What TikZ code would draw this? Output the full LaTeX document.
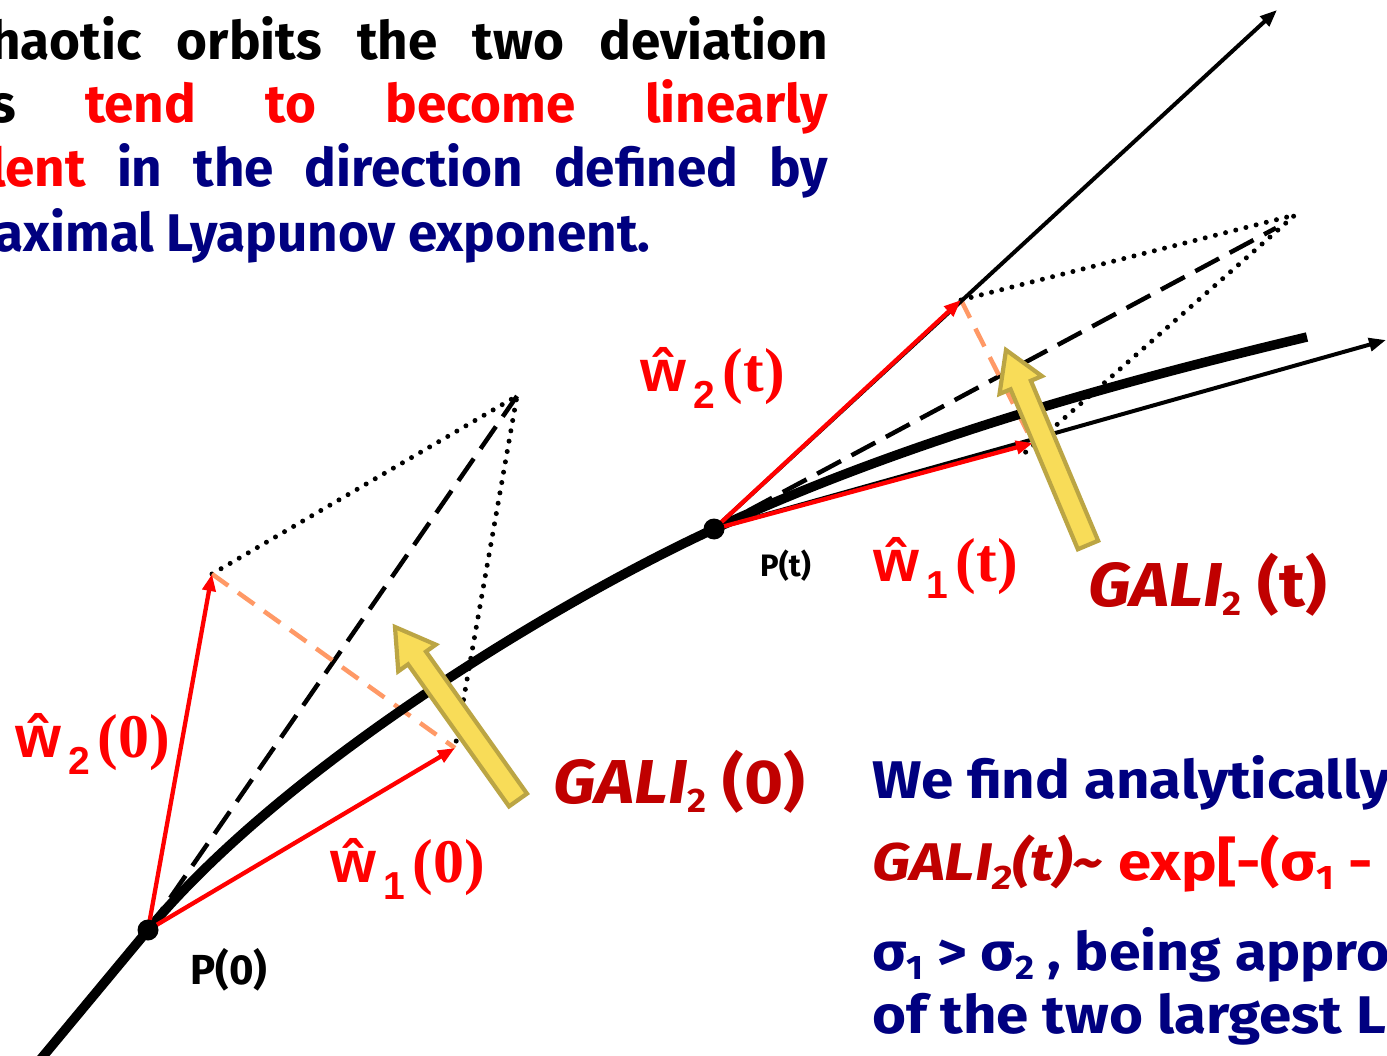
\documentclass[tikz,border=0pt]{standalone}
\usepackage{fontspec}
\setmainfont{Fira Sans}
\newfontfamily\wsans{Liberation Sans}
\newfontfamily\wserif{Liberation Serif}
\usetikzlibrary{arrows.meta,calc}
\definecolor{navy}{HTML}{000080}
\definecolor{dred}{HTML}{C00000}
\definecolor{salmon}{HTML}{FF9966}
\definecolor{gyellow}{HTML}{F8DC58}
\definecolor{golive}{HTML}{BBA544}
\newcommand{\wlab}[2]{{\wsans\bfseries\fontsize{59}{60}\selectfont ŵ\hspace{7pt}\raisebox{-17pt}{\fontsize{39}{40}\selectfont #1}}\hspace{8pt}{\wserif\bfseries\fontsize{62}{64}\selectfont (#2)}}
\newcommand{\mysub}[1]{\raisebox{-9pt}{\fontsize{34}{36}\selectfont #1}}
\newcommand{\galilab}[1]{\scalebox{1.08}[1]{{\itshape GALI}\mysub{2} (#1)}}
\newcommand{\fatarrow}[3]{%
  \coordinate (#1T) at #2; \coordinate (#1H) at #3;
  \coordinate (#1B) at ($(#1H)!38pt!(#1T)$);
  \draw[yarrow] ($(#1T)!11pt!90:(#1H)$) -- ($(#1B)!11pt!90:(#1H)$) -- ($(#1B)!23pt!90:(#1H)$) -- (#1H) -- ($(#1B)!23pt!-90:(#1H)$) -- ($(#1B)!11pt!-90:(#1H)$) -- ($(#1T)!11pt!-90:(#1H)$) -- cycle;}
\tikzset{
  dotline/.style={line width=5pt, dash pattern=on 0pt off 10.5pt, line cap=round},
  longdash/.style={line width=4.5pt, dash pattern=on 27pt off 12pt},
  saldash/.style={salmon, line width=4.5pt, dash pattern=on 20pt off 12pt},
  thinblack/.style={line width=4pt, -{Triangle[length=17pt,width=13pt]}},
  redvec/.style={red, line width=4.3pt, -{Triangle[length=17pt,width=13pt]}},
  orbit/.style={line width=9.5pt},
  yarrow/.style={fill=gyellow, draw=golive, line width=4.2pt, line join=miter},
  txt/.style={inner sep=0pt, anchor=base west, font=\bfseries\fontsize{53}{60}\selectfont},
  lab/.style={inner sep=0pt, anchor=base west},
  gal/.style={inner sep=0pt, anchor=base west, text=dred, font=\bfseries\fontsize{62}{64}\selectfont},
}
\begin{document}
\begin{tikzpicture}[x=1pt,y=-1pt]
\useasboundingbox (0,0) rectangle (1387,1056);
\fill[white] (0,0) rectangle (1387,1056);
% key points
\coordinate (P0) at (148,930);
\coordinate (Pt) at (714,529);
\coordinate (A1) at (455,748);
\coordinate (A2) at (212,574);
\coordinate (A3) at (517,396);
\coordinate (B1) at (1033,443);
\coordinate (B1d) at (1019,458);
\coordinate (B2) at (961,300);
\coordinate (B3) at (1295,215);
\coordinate (D3) at (1276,228);
\coordinate (E1) at (1386,340);
\coordinate (E2) at (1277,10);
\coordinate (O0) at (30,1072);
\coordinate (O1) at (1307,337);
% top text
\node[txt] (t1) at (-10,60) {\makebox[838pt][s]{haotic orbits the two deviation}};
\node[txt] (t2) at (-10,123) {\makebox[838pt][s]{s \textcolor{red}{tend} \textcolor{red}{to} \textcolor{red}{become} \textcolor{red}{linearly}}};
\node[txt, text=navy] (t3) at (-10,187) {\makebox[838pt][s]{\textcolor{red}{lent} in the direction defined by}};
\node[txt, text=navy] (t4) at (-6,252) {aximal Lyapunov exponent.};
% parallelograms (dotted)
\draw[dotline] (A2) -- (A3) -- (A1);
\draw[dotline] (B2) -- (B3) -- (B1d);
% diagonals
\draw[longdash] (P0) -- (A3);
\draw[longdash] (Pt) -- (D3);
% salmon dashed
\draw[saldash] (A2) -- (A1);
\draw[saldash] (B2) -- (B1);
% thin black lines
\draw[thinblack] (Pt) -- (E2);
\draw[thinblack] (Pt) -- (E1);
% orbit
\draw[orbit] (O0) -- (P0) .. controls (285,765) and (560,600) .. (Pt) .. controls (914,437) and (1127,380) .. (O1);
% red vectors
\draw[redvec] (P0) -- (A1);
\draw[redvec] (P0) -- (A2);
\draw[redvec] (Pt) -- (B1);
\draw[redvec] (Pt) -- (B2);
% points
\fill (P0) circle (10.5pt);
\fill (Pt) circle (10.5pt);
% yellow arrows
\fatarrow{G0}{(518,800)}{(395,627)}
\fatarrow{Gt}{(1088,545)}{(1006,350)}
% labels
\node[lab, font=\bfseries\fontsize{42}{44}\selectfont] (lp0) at (190,984) {P(0)};
\node[lab, font=\bfseries\fontsize{31}{32}\selectfont] (lpt) at (760,576) {P(t)};
\node[lab, text=red] (lw20) at (15,757) {\wlab{2}{0}};
\node[lab, text=red] (lw10) at (330,882) {\wlab{1}{0}};
\node[lab, text=red] (lw2t) at (640,392) {\wlab{2}{t}};
\node[lab, text=red] (lw1t) at (873,581) {\wlab{1}{t}};
\node[gal] (g0) at (553,803) {\galilab{0}};
\node[gal] (gt) at (1088,606) {\galilab{t}};
% bottom text
\node[txt, text=navy] (b1) at (872,798) {\scalebox{1.1}[1]{We find analytically}};
\node[txt] (b2) at (872,880) {\scalebox{1.13}[1]{\textcolor{dred}{\itshape GALI\mysub{2}(t)\textasciitilde}\hspace{14pt}\textcolor{red}{exp[-(σ\mysub{1} -}}};
\node[txt, text=navy] (b3) at (872,970) {\scalebox{1.08}[1]{σ\mysub{1} > σ\mysub{2} , being appro}};
\node[txt, text=navy] (b4) at (872,1033) {\scalebox{1.1}[1]{of the two largest L}};
\end{tikzpicture}
\end{document}
